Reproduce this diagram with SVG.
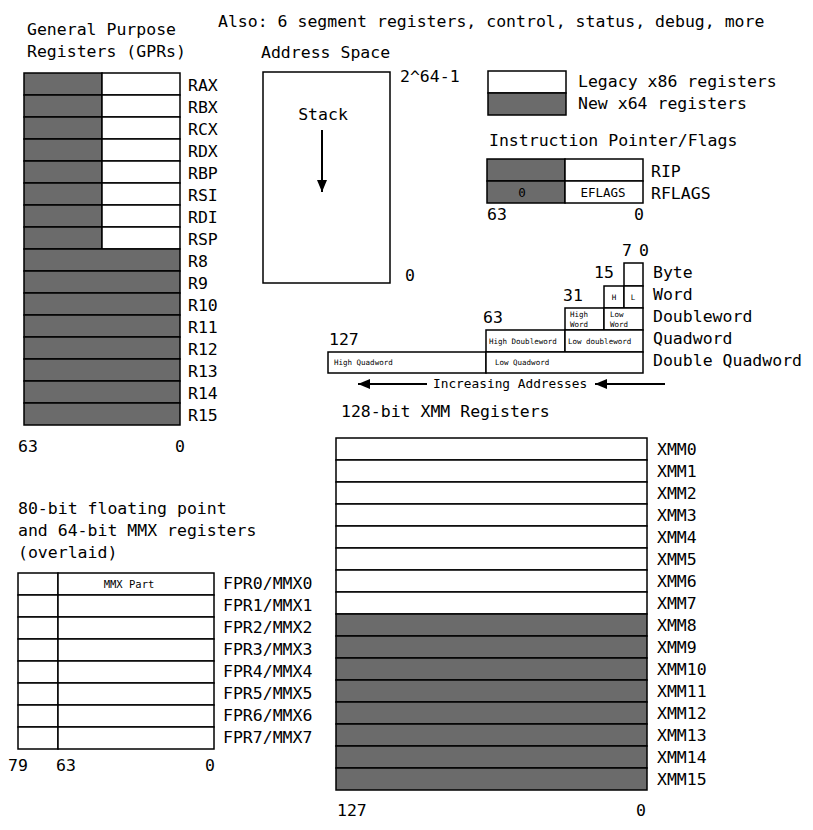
<svg xmlns="http://www.w3.org/2000/svg" width="813" height="830" viewBox="0 0 813 830">
<style>
text{font-family:"DejaVu Sans Mono","Liberation Mono",monospace;font-size:16.5px;fill:#000}
.s{font-size:12.5px}
.xs{font-size:10.5px}
.t{font-size:7.5px}
.d{fill:#6b6b6b;stroke:#000;stroke-width:1.5}
.w{fill:#fff;stroke:#000;stroke-width:1.5}
.m{text-anchor:middle}
</style>
<defs>
<marker id="ah" viewBox="0 0 12 10" refX="12" refY="5" markerWidth="12" markerHeight="10" markerUnits="userSpaceOnUse" orient="auto"><path d="M0,0L12,5L0,10z" fill="#000"/></marker>
</defs>
<rect width="813" height="830" fill="#fff"/>
<text x="218" y="27">Also: 6 segment registers, control, status, debug, more</text>

<g id="gpr">
<text x="27" y="35">General Purpose</text>
<text x="27" y="57">Registers (GPRs)</text>
<rect class="d" x="24" y="73" width="78" height="22"/><rect class="w" x="102" y="73" width="78" height="22"/>
<rect class="d" x="24" y="95" width="78" height="22"/><rect class="w" x="102" y="95" width="78" height="22"/>
<rect class="d" x="24" y="117" width="78" height="22"/><rect class="w" x="102" y="117" width="78" height="22"/>
<rect class="d" x="24" y="139" width="78" height="22"/><rect class="w" x="102" y="139" width="78" height="22"/>
<rect class="d" x="24" y="161" width="78" height="22"/><rect class="w" x="102" y="161" width="78" height="22"/>
<rect class="d" x="24" y="183" width="78" height="22"/><rect class="w" x="102" y="183" width="78" height="22"/>
<rect class="d" x="24" y="205" width="78" height="22"/><rect class="w" x="102" y="205" width="78" height="22"/>
<rect class="d" x="24" y="227" width="78" height="22"/><rect class="w" x="102" y="227" width="78" height="22"/>
<rect class="d" x="24" y="249" width="156" height="22"/>
<rect class="d" x="24" y="271" width="156" height="22"/>
<rect class="d" x="24" y="293" width="156" height="22"/>
<rect class="d" x="24" y="315" width="156" height="22"/>
<rect class="d" x="24" y="337" width="156" height="22"/>
<rect class="d" x="24" y="359" width="156" height="22"/>
<rect class="d" x="24" y="381" width="156" height="22"/>
<rect class="d" x="24" y="403" width="156" height="22"/>
<text x="188" y="91">RAX</text><text x="188" y="113">RBX</text><text x="188" y="135">RCX</text><text x="188" y="157">RDX</text>
<text x="188" y="179">RBP</text><text x="188" y="201">RSI</text><text x="188" y="223">RDI</text><text x="188" y="245">RSP</text>
<text x="188" y="267">R8</text><text x="188" y="289">R9</text><text x="188" y="311">R10</text><text x="188" y="333">R11</text>
<text x="188" y="355">R12</text><text x="188" y="377">R13</text><text x="188" y="399">R14</text><text x="188" y="421">R15</text>
<text x="18" y="452">63</text><text x="175" y="452">0</text>
</g>

<g id="address-space">
<text x="261" y="58">Address Space</text>
<rect class="w" x="263" y="72" width="127" height="211"/>
<text x="323" y="120" class="m">Stack</text>
<text x="400" y="82">2^64-1</text>
<text x="405" y="281">0</text>
</g>

<g id="legend">
<rect class="w" x="488" y="71" width="78" height="22"/>
<rect class="d" x="488" y="93" width="78" height="22"/>
<text x="578" y="87">Legacy x86 registers</text>
<text x="578" y="109">New x64 registers</text>
</g>

<g id="ip-flags">
<text x="489" y="146">Instruction Pointer/Flags</text>
<rect class="d" x="487" y="159" width="78" height="22"/><rect class="w" x="565" y="159" width="78" height="22"/>
<rect class="d" x="487" y="181" width="78" height="22"/><rect class="w" x="565" y="181" width="78" height="22"/>
<text x="522" y="197" class="s m">0</text>
<text x="603" y="197" class="s m">EFLAGS</text>
<text x="651" y="177">RIP</text><text x="651" y="199">RFLAGS</text>
<text x="487" y="220">63</text><text x="634" y="220">0</text>
</g>

<g id="data-sizes">
<rect class="w" x="624" y="263" width="19" height="23"/>
<rect class="w" x="604" y="286" width="20" height="22"/><rect class="w" x="624" y="286" width="19" height="22"/>
<text x="614" y="300" class="t m">H</text><text x="633" y="300" class="t m">L</text>
<rect class="w" x="565" y="308" width="39" height="22"/><rect class="w" x="604" y="308" width="39" height="22"/>
<text x="570" y="317" class="t">High</text><text x="570" y="327" class="t">Word</text>
<text x="610" y="317" class="t">Low</text><text x="610" y="327" class="t">Word</text>
<rect class="w" x="486" y="330" width="79" height="22"/><rect class="w" x="565" y="330" width="78" height="22"/>
<text x="489" y="344" class="t">High Doubleword</text><text x="568" y="344" class="t">Low doubleword</text>
<rect class="w" x="328" y="352" width="158" height="21"/><rect class="w" x="486" y="352" width="157" height="21"/>
<text x="334" y="365" class="t">High Quadword</text><text x="495" y="365" class="t">Low Quadword</text>
<text x="622" y="256">7</text><text x="639" y="256">0</text>
<text x="594" y="278">15</text>
<text x="563" y="301">31</text>
<text x="483" y="323">63</text>
<text x="329" y="345">127</text>
<text x="653" y="278">Byte</text><text x="653" y="300">Word</text><text x="653" y="322">Doubleword</text>
<text x="653" y="344">Quadword</text><text x="653" y="366">Double Quadword</text>
<text x="433" y="388" style="font-size:12.8px">Increasing Addresses</text>
</g>

<g id="xmm">
<text x="341" y="417">128-bit XMM Registers</text>
<rect class="w" x="336" y="438" width="311" height="22"/>
<rect class="w" x="336" y="460" width="311" height="22"/>
<rect class="w" x="336" y="482" width="311" height="22"/>
<rect class="w" x="336" y="504" width="311" height="22"/>
<rect class="w" x="336" y="526" width="311" height="22"/>
<rect class="w" x="336" y="548" width="311" height="22"/>
<rect class="w" x="336" y="570" width="311" height="22"/>
<rect class="w" x="336" y="592" width="311" height="22"/>
<rect class="d" x="336" y="614" width="311" height="22"/>
<rect class="d" x="336" y="636" width="311" height="22"/>
<rect class="d" x="336" y="658" width="311" height="22"/>
<rect class="d" x="336" y="680" width="311" height="22"/>
<rect class="d" x="336" y="702" width="311" height="22"/>
<rect class="d" x="336" y="724" width="311" height="22"/>
<rect class="d" x="336" y="746" width="311" height="22"/>
<rect class="d" x="336" y="768" width="311" height="22"/>
<g style="font-size:15.5px">
<text x="657" y="455">XMM0</text><text x="657" y="477">XMM1</text><text x="657" y="499">XMM2</text><text x="657" y="521">XMM3</text>
<text x="657" y="543">XMM4</text><text x="657" y="565">XMM5</text><text x="657" y="587">XMM6</text><text x="657" y="609">XMM7</text>
<text x="657" y="631">XMM8</text><text x="657" y="653">XMM9</text><text x="657" y="675">XMM10</text><text x="657" y="697">XMM11</text>
<text x="657" y="719">XMM12</text><text x="657" y="741">XMM13</text><text x="657" y="763">XMM14</text><text x="657" y="785">XMM15</text>
</g>
<text x="337" y="816">127</text><text x="636" y="816">0</text>
</g>

<g id="fpr">
<text x="18" y="514">80-bit floating point</text>
<text x="18" y="536">and 64-bit MMX registers</text>
<text x="18" y="558">(overlaid)</text>
<rect class="w" x="18" y="573" width="40" height="22"/><rect class="w" x="58" y="573" width="156" height="22"/>
<rect class="w" x="18" y="595" width="40" height="22"/><rect class="w" x="58" y="595" width="156" height="22"/>
<rect class="w" x="18" y="617" width="40" height="22"/><rect class="w" x="58" y="617" width="156" height="22"/>
<rect class="w" x="18" y="639" width="40" height="22"/><rect class="w" x="58" y="639" width="156" height="22"/>
<rect class="w" x="18" y="661" width="40" height="22"/><rect class="w" x="58" y="661" width="156" height="22"/>
<rect class="w" x="18" y="683" width="40" height="22"/><rect class="w" x="58" y="683" width="156" height="22"/>
<rect class="w" x="18" y="705" width="40" height="22"/><rect class="w" x="58" y="705" width="156" height="22"/>
<rect class="w" x="18" y="727" width="40" height="22"/><rect class="w" x="58" y="727" width="156" height="22"/>
<text x="129" y="588" class="xs m">MMX Part</text>
<text x="223" y="589">FPR0/MMX0</text><text x="223" y="611">FPR1/MMX1</text><text x="223" y="633">FPR2/MMX2</text><text x="223" y="655">FPR3/MMX3</text>
<text x="223" y="677">FPR4/MMX4</text><text x="223" y="699">FPR5/MMX5</text><text x="223" y="721">FPR6/MMX6</text><text x="223" y="743">FPR7/MMX7</text>
<text x="8" y="771">79</text><text x="56" y="771">63</text><text x="205" y="771">0</text>
</g>

<g id="connectors" stroke="#000" stroke-width="2" fill="none">
<line x1="322" y1="130" x2="322" y2="192" marker-end="url(#ah)"/>
<line x1="427" y1="384" x2="358" y2="384" marker-end="url(#ah)"/>
<line x1="665" y1="384" x2="595" y2="384" marker-end="url(#ah)"/>
</g>
</svg>
